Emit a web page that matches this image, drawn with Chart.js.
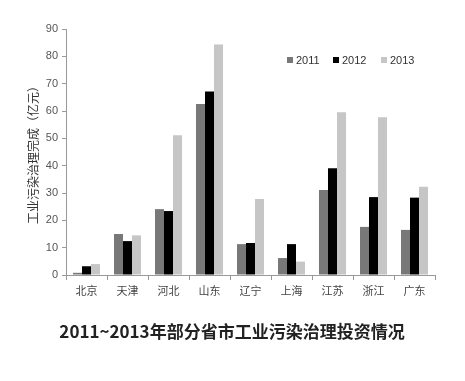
<!DOCTYPE html>
<html><head><meta charset="utf-8">
<script src="https://cdn.jsdelivr.net/npm/chart.js@4/dist/chart.umd.min.js"></script>
<style>html,body{margin:0;padding:0;background:#fff}#wrap{width:465px;height:381px}</style>
</head><body><div id="wrap"><canvas id="c" width="465" height="381"></canvas></div>
<script>
const categories = ['北京','天津','河北','山东','辽宁','上海','江苏','浙江','广东'];
const seriesNames = ['2011','2012','2013'];
const v2011 = [0.8, 15.0, 24.1, 62.6, 11.3, 6.2, 31.1, 17.6, 16.5];
const v2012 = [3.2, 12.4, 23.4, 67.1, 11.7, 11.3, 39.1, 28.5, 28.3];
const v2013 = [4.0, 14.5, 51.1, 84.3, 27.8, 4.9, 59.5, 57.7, 32.3];
const yTicks = [0,10,20,30,40,50,60,70,80,90];
const yTitle = '工业污染治理完成（亿元）';
const mainTitle = '2011~2013年部分省市工业污染治理投资情况';
const colors = ['#787878','#000000','#c6c6c6'];

const cjk = '"Noto Sans CJK SC", "Noto Sans", sans-serif';

const customDraw = {
  id: 'customDraw',
  afterDraw(chart) {
    const ctx = chart.ctx;
    ctx.save();
    // legend
    const lx = [287, 333, 381];
    chart.data.datasets.forEach((ds, i) => {
      ctx.fillStyle = ds.backgroundColor;
      ctx.fillRect(lx[i], 57, 6, 6);
      ctx.fillStyle = '#333';
      ctx.font = '11px "Liberation Sans", sans-serif';
      ctx.textBaseline = 'middle';
      ctx.textAlign = 'left';
      ctx.fillText(ds.label, lx[i] + 9, 60.5);
    });
    // main title
    ctx.fillStyle = '#222';
    ctx.font = 'bold 17px ' + cjk;
    ctx.textAlign = 'center';
    ctx.textBaseline = 'middle';
    ctx.fillText(mainTitle, 232, 332);
    ctx.restore();
  }
};

new Chart(document.getElementById('c'), {
  type: 'bar',
  data: {
    labels: categories,
    datasets: [
      {label: seriesNames[0], data: v2011, backgroundColor: colors[0]},
      {label: seriesNames[1], data: v2012, backgroundColor: colors[1]},
      {label: seriesNames[2], data: v2013, backgroundColor: colors[2]}
    ]
  },
  options: {
    responsive: false,
    animation: false,
    layout: {padding: {left: 0, right: 30, top: 29, bottom: 76}},
    plugins: {legend: {display: false}, title: {display: false}, tooltip: {enabled: false}},
    datasets: {bar: {categoryPercentage: 0.66, barPercentage: 1.0, borderWidth: 0}},
    scales: {
      x: {
        grid: {display: true, drawOnChartArea: false, offset: true, tickLength: 5, color: '#999'},
        border: {display: true, color: '#999'},
        ticks: {color: '#444', font: {family: cjk, size: 11}, padding: 4, maxRotation: 0},
        afterFit(s) { s.height = 30; }
      },
      y: {
        min: 0, max: 90,
        afterBuildTicks(s) { s.ticks = yTicks.map(v => ({value: v})); },
        grid: {display: true, drawOnChartArea: false, tickLength: 4, color: '#999'},
        border: {display: true, color: '#999'},
        ticks: {color: '#555', font: {family: '"Liberation Sans", sans-serif', size: 11}, padding: 4},
        title: {display: true, text: yTitle, color: '#333', font: {family: cjk, size: 12}, padding: {top: 26, bottom: 0}},
        afterFit(s) { s.width = 66; }
      }
    }
  },
  plugins: [customDraw]
});
</script>
</body></html>
